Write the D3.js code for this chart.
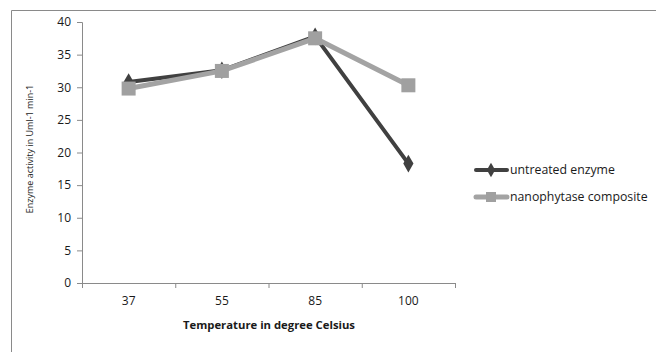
<!DOCTYPE html>
<html><head><meta charset="utf-8">
<script src="https://cdn.jsdelivr.net/npm/d3@7"></script>
<style>body{margin:0;background:#fff}svg{display:block}</style>
</head><body>
<svg id="c" width="656" height="352"></svg>
<script>
const categories = ["37", "55", "85", "100"];
const untreated = [30.8, 32.6, 37.8, 18.3];
const nanophytase = [29.8, 32.5, 37.5, 30.3];
const yTicks = [0, 5, 10, 15, 20, 25, 30, 35, 40];
const seriesNames = ["untreated enzyme", "nanophytase composite"];

const svg = d3.select("#c");
const font = "'Open Sans', sans-serif";
const tc = "#1a1a1a";

// outer frame
svg.append("path").attr("d", "M11.5,360 V10.5 H670")
  .attr("fill", "none").attr("stroke", "#8a8a8a").attr("stroke-width", 1);

const x = d3.scaleBand().domain(categories).range([82, 455]);
const y = d3.scaleLinear().domain([0, 40]).range([283, 22]);

// y axis
const ya = svg.append("g").attr("transform", "translate(82,0)")
  .call(d3.axisLeft(y).tickValues(yTicks).tickSize(5).tickPadding(6));
ya.select(".domain").attr("stroke", "#8a8a8a").attr("d", "M-5,22.5H0.5V283.5H-5");
ya.selectAll(".tick line").attr("stroke", "#8a8a8a");
ya.selectAll("text").attr("font-family", font).attr("font-size", 12).attr("fill", tc);

// x axis
const xa = svg.append("g").attr("transform", "translate(0,283)")
  .call(d3.axisBottom(x).tickSize(0).tickPadding(13));
xa.select(".domain").attr("stroke", "#8a8a8a").attr("d", "M82,0.5H455");
xa.selectAll("text").attr("font-family", font).attr("font-size", 12).attr("fill", tc);
const bounds = [82].concat(categories.map(c => x(c) + x.bandwidth()));
svg.append("g").selectAll("line").data(bounds).join("line")
  .attr("x1", d => d + 0.5).attr("x2", d => d + 0.5)
  .attr("y1", 283).attr("y2", 288).attr("stroke", "#8a8a8a");

// axis titles
svg.append("text").attr("x", 269).attr("y", 329).attr("text-anchor", "middle")
  .attr("font-family", font).attr("font-size", 11.3).attr("font-weight", "bold").attr("fill", tc)
  .text("Temperature in degree Celsius");
svg.append("text").attr("transform", "translate(33,149) rotate(-90)").attr("text-anchor", "middle")
  .attr("font-family", font).attr("font-size", 9).attr("fill", tc)
  .text("Enzyme activity in Uml-1 min-1");

const cx = c => x(c) + x.bandwidth() / 2;
const line = d3.line().x((d, i) => cx(categories[i])).y(d => y(d));

// untreated
svg.append("path").datum(untreated).attr("d", line)
  .attr("fill", "none").attr("stroke", "#404040").attr("stroke-width", 4);
svg.append("g").selectAll("path").data(untreated).join("path")
  .attr("d", d3.symbol(d3.symbolDiamond, 90))
  .attr("transform", (d, i) => `translate(${cx(categories[i])},${y(d)})`)
  .attr("fill", "#404040");

// nanophytase
svg.append("path").datum(nanophytase).attr("d", line)
  .attr("fill", "none").attr("stroke", "#a3a3a3").attr("stroke-width", 5);
svg.append("g").selectAll("rect").data(nanophytase).join("rect")
  .attr("x", (d, i) => cx(categories[i]) - 7).attr("y", d => y(d) - 7)
  .attr("width", 14).attr("height", 14).attr("fill", "#a0a0a0");

// legend
const lg = svg.append("g");
const lcol = ["#404040", "#a3a3a3"];
seriesNames.forEach((n, i) => {
  const ly = 170 + i * 27;
  lg.append("line").attr("x1", 476).attr("x2", 507).attr("y1", ly).attr("y2", ly)
    .attr("stroke", lcol[i]).attr("stroke-width", i ? 5 : 4).attr("stroke-linecap", "round");
  if (i === 0) {
    lg.append("path").attr("d", d3.symbol(d3.symbolDiamond, 60))
      .attr("transform", `translate(491,${ly})`).attr("fill", lcol[0]);
  } else {
    lg.append("rect").attr("x", 486).attr("y", ly - 5).attr("width", 10).attr("height", 10).attr("fill", "#a0a0a0");
  }
  lg.append("text").attr("x", 510).attr("y", ly + 4).attr("font-family", font)
    .attr("font-size", 12.3).attr("fill", tc).text(n);
});
</script>
</body></html>
